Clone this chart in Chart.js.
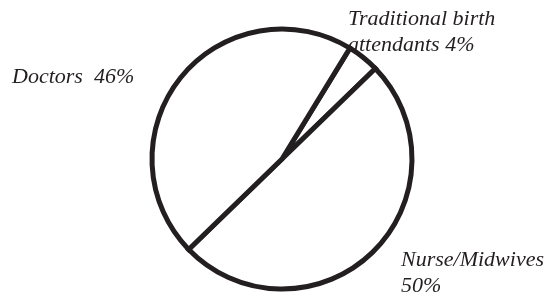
<!DOCTYPE html>
<html>
<head>
<meta charset="utf-8">
<script src="https://cdn.jsdelivr.net/npm/chart.js@4"></script>
<style>
  html, body { margin: 0; padding: 0; background: #fff; }
  #wrap { width: 557px; height: 297px; }
</style>
</head>
<body>
<div id="wrap"><canvas id="pie" width="557" height="297"></canvas></div>
<script>
// data
const categories = ["Traditional birth attendants", "Nurse/Midwives", "Doctors"];
const shares = [4, 50, 46];
// label lines as printed next to the pie
const labelLines = [
  ["Traditional birth", "attendants 4%"],
  ["Nurse/Midwives", "50%"],
  ["Doctors  46%"]
];

// where each label block starts (left x, first baseline)
const labelPos = [
  { x: 348, y: 25 },
  { x: 401, y: 266 },
  { x: 12, y: 83 }
];

const ink = "#231f20";
const labelFont = "italic 22px 'Liberation Serif', 'Times New Roman', serif";

const pieLabels = {
  id: "pieLabels",
  afterDraw(chart) {
    const ctx = chart.ctx;
    ctx.save();
    ctx.fillStyle = ink;
    ctx.font = labelFont;
    ctx.textAlign = "left";
    ctx.textBaseline = "alphabetic";
    labelLines.forEach((lines, i) => {
      lines.forEach((t, j) => {
        ctx.fillText(t, labelPos[i].x, labelPos[i].y + j * 26);
      });
    });
    ctx.restore();
  }
};

new Chart(document.getElementById("pie"), {
  type: "pie",
  data: {
    labels: categories,
    datasets: [{
      data: shares,
      backgroundColor: "#ffffff",
      borderColor: ink,
      borderWidth: 5,
      borderJoinStyle: "miter"
    }]
  },
  options: {
    responsive: false,
    animation: false,
    rotation: 31.5,
    radius: 130,
    layout: { padding: { left: 140, right: 133, top: 22, bottom: 1 } },
    plugins: {
      legend: { display: false },
      tooltip: { enabled: false }
    }
  },
  plugins: [pieLabels]
});
</script>
</body>
</html>
